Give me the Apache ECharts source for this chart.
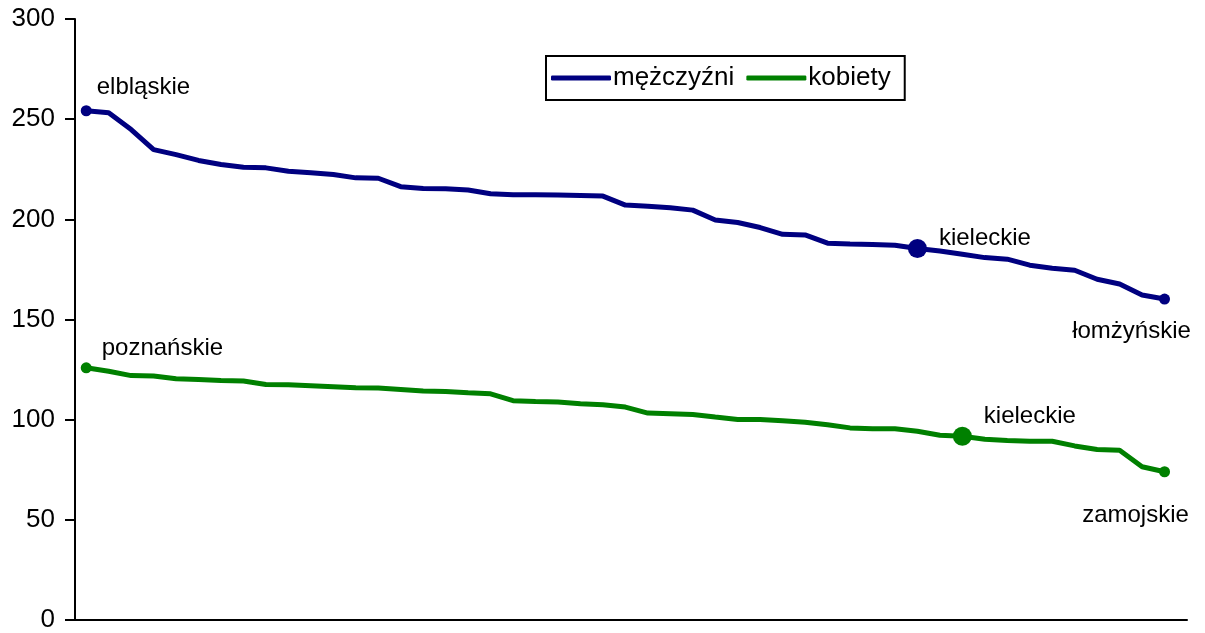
<!DOCTYPE html>
<html>
<head>
<meta charset="utf-8">
<script src="https://cdn.jsdelivr.net/npm/echarts@6/dist/echarts.min.js"></script>
<style>
html,body{margin:0;padding:0;background:#fff;}
#c{width:1205px;height:633px;}
</style>
</head>
<body>
<div id="c"></div>
<script>
// Values (49 voivodeships, sorted descending)
const seriesNames = ['mężczyźni', 'kobiety'];
const male = [254.2,253.2,244.8,234.8,232.3,229.4,227.4,226.0,225.7,224.0,223.2,222.4,220.7,220.5,216.3,215.4,215.3,214.6,212.8,212.3,212.3,212.2,211.9,211.6,207.1,206.5,205.8,204.6,199.7,198.4,195.9,192.5,192.2,188.1,187.7,187.4,187.1,185.4,184.2,182.6,180.9,180.1,177.1,175.6,174.6,170.1,167.7,162.2,160.2];
const female = [125.9,124.2,122.0,121.8,120.4,120.0,119.6,119.3,117.6,117.4,116.9,116.4,115.9,115.8,115.1,114.3,114.1,113.4,112.9,109.5,109.1,108.8,108.0,107.5,106.3,103.3,103.0,102.6,101.3,100.1,100.1,99.4,98.7,97.5,95.9,95.5,95.5,94.2,92.2,91.7,90.2,89.6,89.2,89.2,86.9,85.1,84.7,76.5,74.0];
const maleMarked = [[0,'elbląskie'],[37,'kieleckie'],[48,'łomżyńskie']];
const femaleMarked = [[0,'poznańskie'],[39,'kieleckie'],[48,'zamojskie']];
const yTicks = [0,50,100,150,200,250,300];

const FONT = 'Liberation Sans, Arial, sans-serif';

function labelFor(kind){
  const base = {show:true, color:'#000', fontSize:24, fontFamily:FONT};
  if (kind==='first') return Object.assign(base,{position:'right', distance:5, offset:[0,-23], align:'left'});
  if (kind==='mid') return Object.assign(base,{position:'right', distance:12, offset:[0,-10], align:'left'});
  return Object.assign(base,{position:'bottom', distance:15, offset:[-33,0], align:'center'});
}

function buildData(values, marked){
  return values.map((v,i)=>{
    const m = marked.findIndex(x=>x[0]===i);
    if (m<0) return {value:[i,v], symbolSize:0};
    const kind = m===0?'first':(m===1?'mid':'last');
    return {
      value:[i,v],
      symbolSize: kind==='mid'?19:11,
      name: marked[m][1],
      label: Object.assign(labelFor(kind),{formatter: marked[m][1]})
    };
  });
}

const maleData = buildData(male, maleMarked);
const femaleData = buildData(female, femaleMarked);
femaleData[48].label.distance = 26;
femaleData[48].label.offset = [-29,0];
femaleData[0].label.distance = 10;
femaleData[0].label.offset = [0,-19];
femaleData[39].label.offset = [0,-20];

const chart = echarts.init(document.getElementById('c'), null, {renderer:'canvas'});
chart.setOption({
  animation:false,
  backgroundColor:'#fff',
  grid:{left:75, right:18, top:19, bottom:11, containLabel:false},
  legend:{
    left:546, top:56,
    data:[{name:seriesNames[0], icon:'roundRect'},{name:seriesNames[1], icon:'roundRect'}],
    itemWidth:60, itemHeight:5, itemGap:12,
    borderColor:'#000', borderWidth:2, borderRadius:0,
    padding:[9,14,9,5],
    textStyle:{fontSize:26, fontFamily:FONT, color:'#000', padding:[0,0,0,-3]}
  },
  xAxis:{
    type:'value', min:-0.5, max:49,
    axisLine:{show:true, onZero:false, lineStyle:{color:'#000', width:2}},
    axisTick:{show:false}, axisLabel:{show:false}, splitLine:{show:false}
  },
  yAxis:{
    type:'value', min:yTicks[0], max:yTicks[yTicks.length-1], interval:50,
    axisLine:{show:true, onZero:false, lineStyle:{color:'#000', width:2}},
    axisTick:{show:true, inside:false, length:10, lineStyle:{color:'#000', width:2}},
    axisLabel:{fontSize:26, fontFamily:FONT, color:'#000', margin:20},
    splitLine:{show:false}
  },
  series:[
    {name:seriesNames[0], type:'line', data:maleData, symbol:'circle',
     lineStyle:{color:'#000080', width:5}, itemStyle:{color:'#000080'}, z:3},
    {name:seriesNames[1], type:'line', data:femaleData, symbol:'circle',
     lineStyle:{color:'#008000', width:5}, itemStyle:{color:'#008000'}, z:3}
  ]
});
</script>
</body>
</html>
